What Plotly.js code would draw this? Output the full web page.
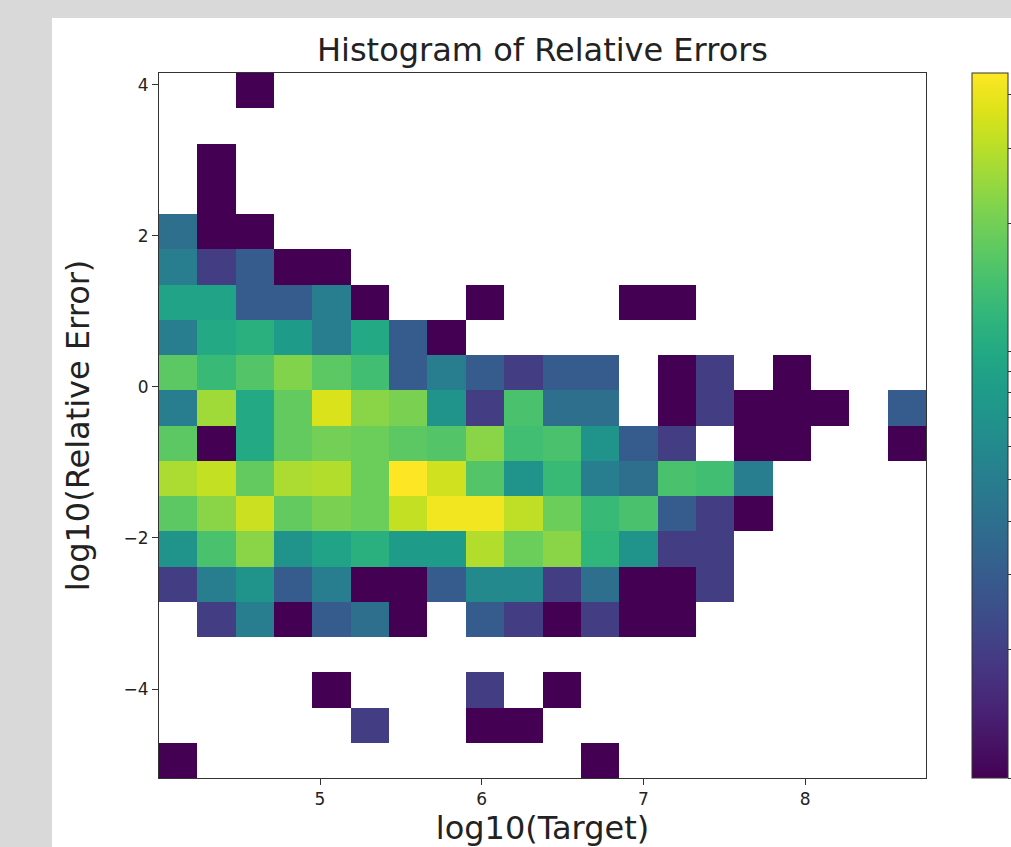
<!DOCTYPE html>
<html><head><meta charset="utf-8">
<script src="https://cdn.plot.ly/plotly-3.0.1.min.js"></script>
<style>
html,body{margin:0;padding:0;background:#d9d9d9;overflow:hidden;width:1011px;height:847px}
#fig{position:absolute;left:52px;top:18px;width:1000px;height:860px;background:#fff}
</style>
</head><body><div id="fig"></div>
<script>
// histogram bins (20 x 20)
const xBinStart = 4.004, xBinSize = 0.2372;
const yBinStart = -5.178, yBinSize = 0.4666;

// counts per y-bin row, from the bottom row (row01) to the top row (row20); 0 = empty bin
const row01 = [1,0,0,0,0,0,0,0,0,0,0,1,0,0,0,0,0,0,0,0];
const row02 = [0,0,0,0,0,2,0,0,1,1,0,0,0,0,0,0,0,0,0,0];
const row03 = [0,0,0,0,1,0,0,0,2,0,1,0,0,0,0,0,0,0,0,0];
const row04 = [0,0,0,0,0,0,0,0,0,0,0,0,0,0,0,0,0,0,0,0];
const row05 = [0,2,5,1,3,4,1,0,3,2,1,2,1,1,0,0,0,0,0,0];
const row06 = [2,5,7,3,5,1,1,3,6,6,2,4,1,1,2,0,0,0,0,0];
const row07 = [7,15,23,7,9,11,8,8,29,19,23,12,7,2,2,0,0,0,0,0];
const row08 = [17,23,33,18,21,19,32,42,42,31,19,13,15,3,2,1,0,0,0,0];
const row09 = [28,32,18,28,29,19,45,34,16,7,13,5,4,15,14,5,0,0,0,0];
const row10 = [17,1,10,18,20,19,17,16,23,14,15,7,3,2,0,1,1,0,0,1];
const row11 = [5,26,10,18,36,23,21,7,2,15,4,4,0,1,2,1,1,1,0,3];
const row12 = [17,13,16,22,17,14,3,5,3,2,3,3,0,1,2,0,1,0,0,0];
const row13 = [5,10,11,8,5,10,3,1,0,0,0,0,0,0,0,0,0,0,0,0];
const row14 = [9,9,3,3,5,1,0,0,1,0,0,0,1,1,0,0,0,0,0,0];
const row15 = [5,2,3,1,1,0,0,0,0,0,0,0,0,0,0,0,0,0,0,0];
const row16 = [4,1,1,0,0,0,0,0,0,0,0,0,0,0,0,0,0,0,0,0];
const row17 = [0,1,0,0,0,0,0,0,0,0,0,0,0,0,0,0,0,0,0,0];
const row18 = [0,1,0,0,0,0,0,0,0,0,0,0,0,0,0,0,0,0,0,0];
const row19 = [0,0,0,0,0,0,0,0,0,0,0,0,0,0,0,0,0,0,0,0];
const row20 = [0,0,1,0,0,0,0,0,0,0,0,0,0,0,0,0,0,0,0,0];

const xTickVals = [5,6,7,8];
const yTickVals = [-4,-2,0,2,4];
const cbTickCounts = [1,2,3,4,5,6,7,8,9,10,20,30,40];
const countMax = 45;

const rows = [row01,row02,row03,row04,row05,row06,row07,row08,row09,row10,
              row11,row12,row13,row14,row15,row16,row17,row18,row19,row20];
const z = rows.map(r => r.map(v => v > 0 ? Math.log10(v) : null));
const txt = rows.map(r => r.map(v => String(v)));

const viridis = [
 [0.0,'#440154'],[0.05,'#471365'],[0.1,'#482475'],[0.15,'#463480'],[0.2,'#414487'],
 [0.25,'#3b528b'],[0.3,'#355f8d'],[0.35,'#2f6c8e'],[0.4,'#2a788e'],[0.45,'#25848e'],
 [0.5,'#21918c'],[0.55,'#1e9c89'],[0.6,'#22a884'],[0.65,'#2fb47c'],[0.7,'#44bf70'],
 [0.75,'#5ec962'],[0.8,'#7ad151'],[0.85,'#9bd93c'],[0.9,'#bddf26'],[0.95,'#dfe318'],[1.0,'#fde725']];

const font = 'DejaVu Sans, sans-serif';
const trace = {
  type: 'heatmap', z: z, text: txt,
  x0: xBinStart + xBinSize/2, dx: xBinSize,
  y0: yBinStart + yBinSize/2, dy: yBinSize,
  colorscale: viridis, zmin: 0, zmax: Math.log10(countMax),
  hovertemplate: 'x=%{x:.2f}<br>y=%{y:.2f}<br>count=%{text}<extra></extra>',
  colorbar: {
    x: 1.06, xanchor: 'left', xref: 'paper', xpad: 0, ypad: 0,
    y: 0.5, yanchor: 'middle', len: 1, lenmode: 'fraction',
    thickness: 36, thicknessmode: 'pixels',
    outlinewidth: 1, outlinecolor: '#333',
    tickmode: 'array', tickvals: cbTickCounts.map(v => Math.log10(v)),
    ticks: 'outside', ticklen: 4, tickcolor: '#333', showticklabels: false
  }
};

const axisCommon = {
  ticks: 'outside', ticklen: 6, tickwidth: 1, tickcolor: '#333',
  showline: true, mirror: true, linecolor: '#333', linewidth: 1,
  showgrid: false, zeroline: false, automargin: false,
  tickfont: {family: font, size: 17, color: '#222'}
};

const layout = {
  width: 1000, height: 860,
  margin: {l: 107, r: 126, t: 55, b: 100},
  paper_bgcolor: '#fff', plot_bgcolor: '#fff',
  font: {family: font, color: '#222'},
  title: {text: 'Histogram of Relative Errors', font: {family: font, size: 32, color: '#222'},
          x: 0.5, xref: 'paper', xanchor: 'center', y: 1 - 32/860, yref: 'container', yanchor: 'middle'},
  xaxis: Object.assign({}, axisCommon, {
    range: [xBinStart, xBinStart + 20*xBinSize], tickmode: 'array', tickvals: xTickVals,
    title: {text: 'log10(Target)', font: {family: font, size: 32, color: '#222'}, standoff: 6}
  }),
  yaxis: Object.assign({}, axisCommon, {
    range: [yBinStart, yBinStart + 20*yBinSize], tickmode: 'array', tickvals: yTickVals,
    title: {text: 'log10(Relative Error)', font: {family: font, size: 32, color: '#222'}, standoff: 24}
  })
};

Plotly.newPlot('fig', [trace], layout, {displayModeBar: false, staticPlot: false});
</script>
</body></html>
